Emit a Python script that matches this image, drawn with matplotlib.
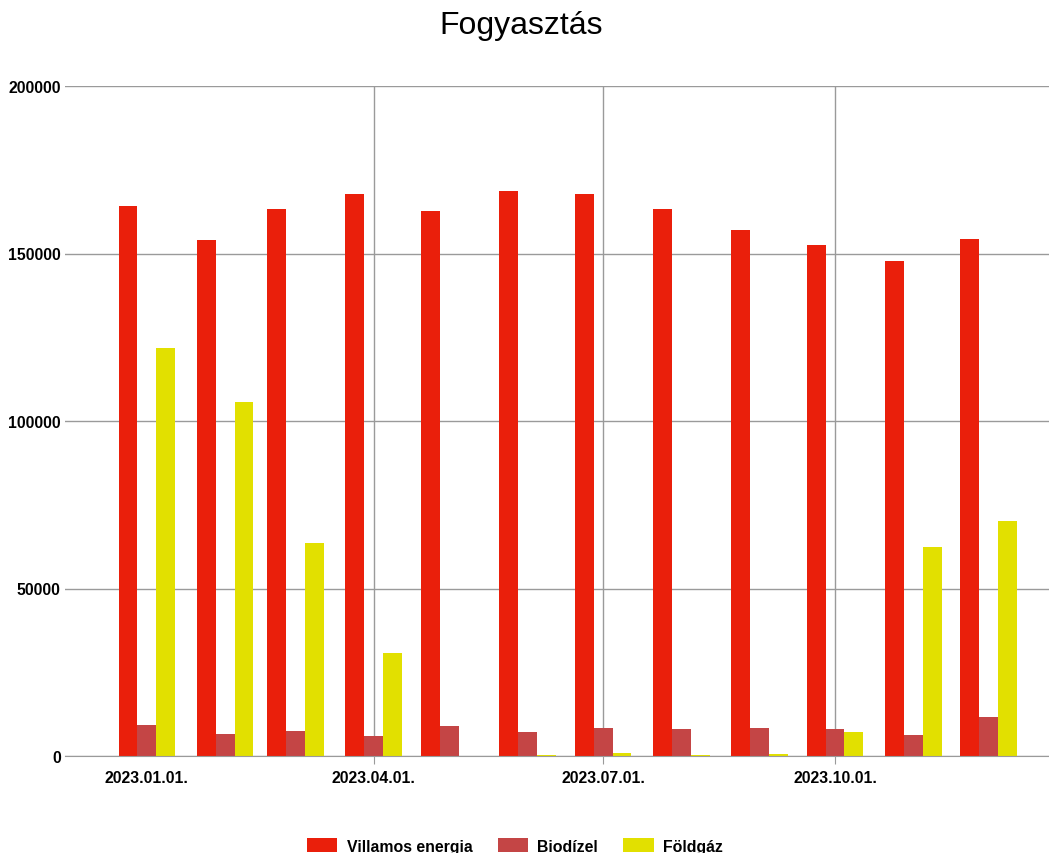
import numpy as np
import pandas as pd
import matplotlib.pyplot as plt
import matplotlib.dates as mdates

plt.rcParams['font.family'] = ['Liberation Sans', 'DejaVu Sans']

months = pd.date_range("2023-01-01", periods=12, freq="MS")
villamos = [164200, 154000, 163300, 167800, 162700, 168700,
            167800, 163300, 157000, 152500, 147800, 154300]
biodizel = [9300, 6600, 7500, 6000, 9000, 7200,
            8400, 8100, 8400, 8000, 6400, 11600]
foldgaz = [121800, 105700, 63600, 30700, 0, 300,
           900, 300, 600, 7300, 62400, 70100]
series = ["Villamos energia", "Biodízel", "Földgáz"]
colors = ["#EA1F0B", "#C44545", "#E2E000"]
tick_dates = pd.to_datetime(["2023-01-01", "2023-04-01", "2023-07-01", "2023-10-01"])
tick_labels = ["2023.01.01.", "2023.04.01.", "2023.07.01.", "2023.10.01."]
yticks = [0, 50000, 100000, 150000, 200000]

fig = plt.figure(figsize=(10.49, 8.54), dpi=100)
ax = fig.add_axes([65 / 1049, 1 - 757 / 854, (1049 - 65) / 1049, 670 / 854])

x = mdates.date2num(months)
w = 7.5
for i, (vals, name, c) in enumerate(zip([villamos, biodizel, foldgaz], series, colors)):
    ax.bar(x + (i - 1) * w, vals, width=w, color=c, label=name, zorder=3)

ax.set_ylim(0, 200000)
ax.set_yticks(yticks)
ax.set_yticklabels([str(v) for v in yticks], fontsize=11.4, fontweight="bold")
jan1 = mdates.date2num(pd.Timestamp("2023-01-01"))
ax.set_xlim(jan1 - 32.5, jan1 + 357.9)
ax.set_xticks(mdates.date2num(tick_dates))
ax.set_xticklabels(tick_labels, fontsize=11.4, fontweight="bold")

ax.grid(axis="y", color="#9a9a9a", linewidth=1, zorder=0)
ax.grid(axis="x", color="#9a9a9a", linewidth=1, zorder=0)
ax.get_xgridlines()[0].set_visible(False)
ax.xaxis.get_major_ticks()[0].tick1line.set_visible(False)
ax.tick_params(axis="x", length=6, color="#9a9a9a", pad=4)
ax.tick_params(axis="y", length=0, pad=3)
for s in ["top", "right", "left"]:
    ax.spines[s].set_visible(False)
ax.spines["bottom"].set_color("#9a9a9a")
ax.spines["bottom"].set_zorder(4)

fig.text(521 / 1049, 1 - 26 / 854, "Fogyasztás", ha="center", va="center", fontsize=23)
fig.legend(loc="center", bbox_to_anchor=(515 / 1049, 1 - 847 / 854), ncol=3, frameon=False,
           prop={"weight": "bold", "size": 11.4}, handlelength=1.9, handleheight=0.9,
           handletextpad=0.6, columnspacing=1.6)

fig.savefig("out.png", dpi=100)
